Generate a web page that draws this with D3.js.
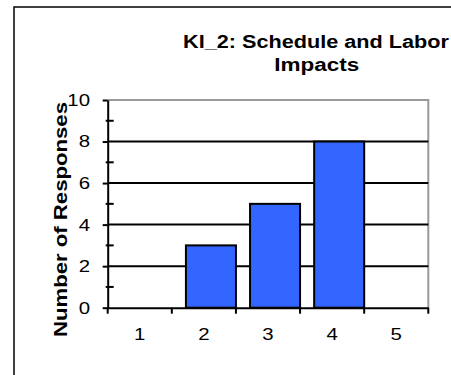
<!DOCTYPE html>
<html>
<head>
<meta charset="utf-8">
<script src="https://cdn.jsdelivr.net/npm/d3@7"></script>
<style>
  body { margin: 0; background: #fff; }
  svg { display: block; font-family: 'Liberation Sans', Arial, sans-serif; }
</style>
</head>
<body>
<div id="chart"></div>
<script>
const categories = ['1', '2', '3', '4', '5'];
const responses = [0, 3, 5, 8, 0];
const yTicks = [0, 2, 4, 6, 8, 10];
const yMinorTicks = [1, 3, 5, 7, 9];
const titleLines = ['KI_2: Schedule and Labor', 'Impacts'];
const yTitle = 'Number of Responses';

const width = 451,
  height = 375,
  plot = { left: 107.7, right: 428.3, top: 100, bottom: 307.7 },
  stretch = 1.2; // the source image is a bit wide, glyphs look stretched

const svg = d3.select('#chart')
  .append('svg')
  .attr('width', width)
  .attr('height', height);

svg.append('rect')
  .attr('width', width)
  .attr('height', height)
  .attr('fill', '#fff');

// outer chart-area border, runs off the right and bottom edges
svg.append('rect')
  .attr('x', 14)
  .attr('y', 7)
  .attr('width', 600)
  .attr('height', 600)
  .attr('fill', 'none')
  .attr('stroke', '#000')
  .attr('stroke-width', 1.5);

const x = d3.scaleBand()
  .domain(categories)
  .range([plot.left, plot.right])
  .padding(0);

const y = d3.scaleLinear()
  .domain([0, 10])
  .range([plot.bottom, plot.top]);

// plot frame (top + right are grey)
svg.append('path')
  .attr('d', `M${plot.left},${y(10)}H${plot.right}V${plot.bottom}`)
  .attr('fill', 'none')
  .attr('stroke', '#999')
  .attr('stroke-width', 2);

// gridlines
svg.append('g')
  .selectAll('line')
  .data(yTicks.filter(d => d > 0 && d < 10))
  .enter()
  .append('line')
  .attr('x1', plot.left)
  .attr('x2', plot.right)
  .attr('y1', d => y(d))
  .attr('y2', d => y(d))
  .attr('stroke', '#000')
  .attr('stroke-width', 2);

// bars: Excel-style offset, each sits at the right of its category slot
const bw = x.bandwidth();
svg.append('g')
  .selectAll('rect')
  .data(responses.map((v, i) => ({ cat: categories[i], v })).filter(d => d.v > 0))
  .enter()
  .append('rect')
  .attr('x', d => x(d.cat) + bw * 0.22)
  .attr('width', bw * 0.78)
  .attr('y', d => y(d.v))
  .attr('height', d => y(0) - y(d.v))
  .attr('fill', '#3366ff')
  .attr('stroke', '#000')
  .attr('stroke-width', 2);

// y axis
const yAxis = svg.append('g')
  .attr('transform', `translate(${plot.left},0)`)
  .call(d3.axisLeft(y).tickValues(yTicks).tickSize(5).tickPadding(12.7).tickSizeOuter(0));

yAxis.select('.domain').attr('stroke-width', 2);
yAxis.selectAll('.tick line').attr('stroke-width', 2);
yAxis.selectAll('text')
  .attr('x', -17.7 / stretch)
  .attr('transform', `scale(${stretch},1)`)
  .attr('font-size', 17)
  .attr('font-family', "'Liberation Sans', Arial, sans-serif")
  .attr('fill', '#000');

yAxis.selectAll('.minor')
  .data(yMinorTicks)
  .enter()
  .append('line')
  .attr('class', 'minor')
  .attr('x1', -2)
  .attr('x2', 6)
  .attr('y1', d => y(d))
  .attr('y2', d => y(d))
  .attr('stroke', '#000')
  .attr('stroke-width', 2);

// x axis: labels centered, ticks at category boundaries
const xAxis = svg.append('g')
  .attr('transform', `translate(0,${plot.bottom})`)
  .call(d3.axisBottom(x).tickSize(0).tickPadding(20).tickSizeOuter(0));

xAxis.select('.domain').attr('stroke-width', 2);
xAxis.selectAll('text')
  .attr('transform', `scale(${stretch},1)`)
  .attr('font-size', 17)
  .attr('font-family', "'Liberation Sans', Arial, sans-serif")
  .attr('fill', '#000');

xAxis.selectAll('.bound')
  .data(categories.map(c => x(c)).concat([x.range()[1]]))
  .enter()
  .append('line')
  .attr('class', 'bound')
  .attr('x1', d => d)
  .attr('x2', d => d)
  .attr('y1', 0)
  .attr('y2', 6)
  .attr('stroke', '#000')
  .attr('stroke-width', 2);

// title
svg.append('text')
  .attr('x', 316)
  .attr('y', 48.3)
  .attr('text-anchor', 'middle')
  .attr('font-size', 18)
  .attr('font-weight', 'bold')
  .attr('textLength', 266)
  .attr('lengthAdjust', 'spacingAndGlyphs')
  .text(titleLines[0]);

svg.append('text')
  .attr('x', 316.8)
  .attr('y', 71)
  .attr('text-anchor', 'middle')
  .attr('font-size', 18)
  .attr('font-weight', 'bold')
  .attr('textLength', 85)
  .attr('lengthAdjust', 'spacingAndGlyphs')
  .text(titleLines[1]);

// y axis title
svg.append('text')
  .attr('transform', 'translate(66.7,219.5) rotate(-90)')
  .attr('text-anchor', 'middle')
  .attr('font-size', 18.5)
  .attr('font-weight', 'bold')
  .attr('textLength', 235)
  .attr('lengthAdjust', 'spacingAndGlyphs')
  .text(yTitle);
</script>
</body>
</html>
